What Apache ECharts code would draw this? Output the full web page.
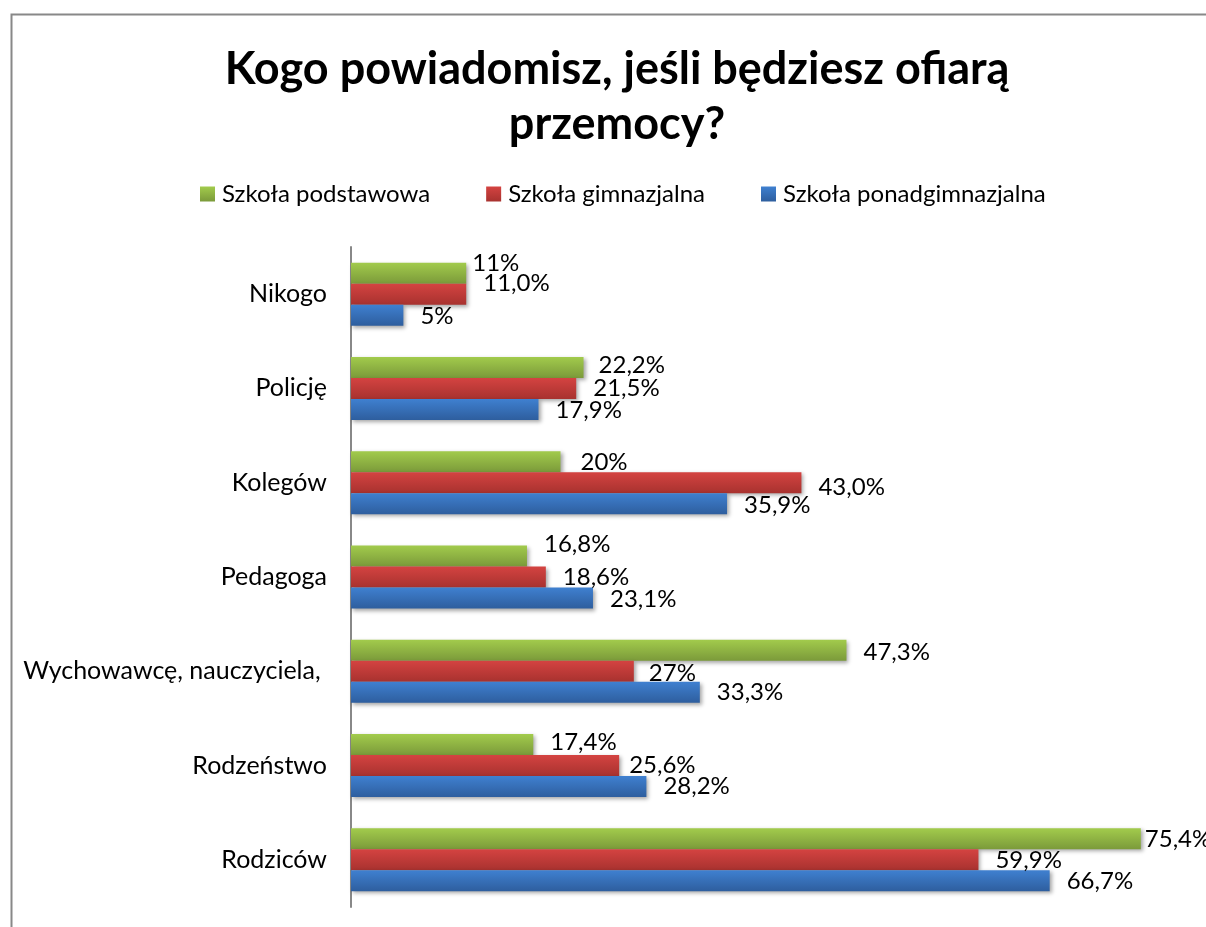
<!DOCTYPE html>
<html><head><meta charset="utf-8">
<script src="https://cdn.jsdelivr.net/npm/echarts@6/dist/echarts.min.js"></script>
<style>html,body{margin:0;padding:0;background:#fff;}#c{width:1206px;height:927px;}</style>
</head><body><div id="c"></div>
<script>
const categories = ['Nikogo', 'Policję', 'Kolegów', 'Pedagoga', 'Wychowawcę, nauczyciela, ', 'Rodzeństwo', 'Rodziców'];
const seriesNames = ['Szkoła podstawowa', 'Szkoła gimnazjalna', 'Szkoła ponadgimnazjalna'];
const podstawowa = [11, 22.2, 20, 16.8, 47.3, 17.4, 75.4];
const gimnazjalna = [11.0, 21.5, 43.0, 18.6, 27, 25.6, 59.9];
const ponadgimnazjalna = [5, 17.9, 35.9, 23.1, 33.3, 28.2, 66.7];
const labelsPodstawowa = ['11%', '22,2%', '20%', '16,8%', '47,3%', '17,4%', '75,4%'];
const labelsGimnazjalna = ['11,0%', '21,5%', '43,0%', '18,6%', '27%', '25,6%', '59,9%'];
const labelsPonad = ['5%', '17,9%', '35,9%', '23,1%', '33,3%', '28,2%', '66,7%'];

const FONT = 'Lato';
function grad(top, bottom) {
  return new echarts.graphic.LinearGradient(0, 0, 0, 1, [
    { offset: 0, color: top }, { offset: 1, color: bottom }
  ]);
}
const fills = [grad('#a2cb4c', '#7b9a3a'), grad('#d44341', '#a8322f'), grad('#3f80d0', '#2e5e9e')];
const values = [podstawowa, gimnazjalna, ponadgimnazjalna];
const labelTexts = [labelsPodstawowa, labelsGimnazjalna, labelsPonad];
// manual label nudges as in the original (series index -> data index -> [dx, dy])
const nudges = [
  { 0: [-11, -10], 1: [-2, -2], 2: [3, 1], 3: [0, -12], 4: [0, 2], 5: [0, -2], 6: [-13, 0] },
  { 0: [0, -11], 2: [0, 5], 4: [-2, 2], 5: [-7, 0] },
  { 0: [0, 1], 1: [0, 1], 2: [0, 2], 3: [0, 1] }
];

const chart = echarts.init(document.getElementById('c'), null, { renderer: 'canvas' });
chart.setOption({
  animation: false,
  backgroundColor: '#fff',
  graphic: [{
    type: 'rect', left: 9, top: 12, silent: true,
    shape: { width: 1300, height: 1000 },
    style: { fill: 'none', stroke: '#888', lineWidth: 2 }
  }],
  title: {
    text: 'Kogo powiadomisz, jeśli będziesz ofiarą\nprzemocy?',
    left: 612, top: 37, textAlign: 'center',
    textStyle: { fontFamily: FONT, fontWeight: 'bold', fontSize: 45, lineHeight: 55, color: '#000' }
  },
  legend: {
    top: 177, left: 195,
    itemWidth: 15, itemHeight: 15, itemGap: 56,
    icon: 'rect',
    textStyle: { fontFamily: FONT, fontSize: 24, color: '#000', padding: [0, 0, 0, 2] },
    data: seriesNames
  },
  grid: { left: 351, top: 247, width: 838, height: 660, containLabel: false },
  xAxis: { type: 'value', min: 0, max: 80, show: false },
  yAxis: {
    type: 'category', data: categories, inverse: true,
    axisLine: { show: true, lineStyle: { color: '#888', width: 2 } },
    axisTick: { show: false },
    axisLabel: { fontFamily: FONT, fontSize: 25, color: '#000', margin: 24 }
  },
  series: values.map((v, i) => ({
    name: seriesNames[i],
    type: 'bar',
    data: v.map((val, j) => {
      const n = nudges[i][j];
      return n ? { value: val, label: { offset: n } } : val;
    }),
    barWidth: 21,
    barGap: '0%',
    barCategoryGap: '33%',
    itemStyle: { color: fills[i], shadowColor: 'rgba(0,0,0,0.35)', shadowBlur: 4, shadowOffsetX: 2, shadowOffsetY: 2 },
    label: {
      show: true, position: 'right', distance: 17,
      fontFamily: FONT, fontSize: 24, color: '#000',
      formatter: p => labelTexts[i][p.dataIndex]
    }
  }))
});
</script></body></html>
